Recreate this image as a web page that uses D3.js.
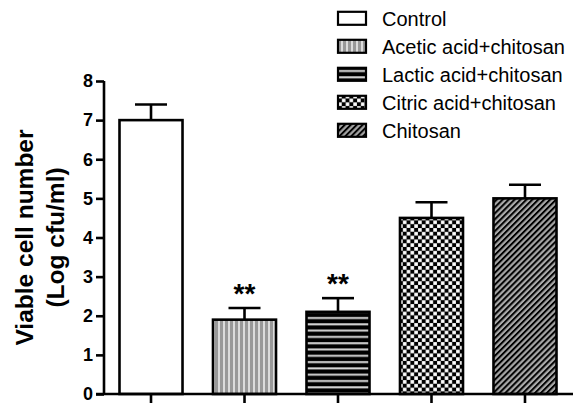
<!DOCTYPE html>
<html>
<head>
<meta charset="utf-8">
<script src="https://cdn.jsdelivr.net/npm/d3@7"></script>
<style>
  html, body { margin: 0; padding: 0; background: #fff; }
  svg { display: block; }
  text { font-family: "Liberation Sans", Arial, Helvetica, sans-serif; fill: #000; }
</style>
</head>
<body>
<svg id="chart" width="576" height="403"></svg>
<script>
// Treatments and their viable counts (log cfu/ml) with upper SD
const groups = ["Control", "Acetic acid+chitosan", "Lactic acid+chitosan", "Citric acid+chitosan", "Chitosan"];
const means = [7.0, 1.9, 2.1, 4.5, 5.0];
const errors = [0.4, 0.3, 0.35, 0.4, 0.35];
const significance = ["", "**", "**", "", ""];
const yTicks = [0, 1, 2, 3, 4, 5, 6, 7, 8];

const svg = d3.select("#chart");
const defs = svg.append("defs");

// Fill patterns for each treatment
// Acetic: fine vertical grey stripes
const pA = defs.append("pattern").attr("id", "pat-acetic").attr("patternUnits", "userSpaceOnUse")
  .attr("width", 5).attr("height", 5);
pA.append("rect").attr("width", 5).attr("height", 5).attr("fill", "#999");
pA.append("rect").attr("x", 3).attr("width", 2).attr("height", 5).attr("fill", "#dcdcdc");

// Lactic: black with thin light horizontal lines
const pL = defs.append("pattern").attr("id", "pat-lactic").attr("patternUnits", "userSpaceOnUse")
  .attr("width", 6).attr("height", 6.3);
pL.append("rect").attr("width", 6).attr("height", 6.3).attr("fill", "#000");
pL.append("rect").attr("y", 2).attr("width", 6).attr("height", 2).attr("fill", "#d8d8d8");

// Citric: checkerboard
const pC = defs.append("pattern").attr("id", "pat-citric").attr("patternUnits", "userSpaceOnUse")
  .attr("width", 7.6).attr("height", 7.6);
pC.append("rect").attr("width", 7.6).attr("height", 7.6).attr("fill", "#000");
pC.append("rect").attr("x", 0.1).attr("y", 0.1).attr("width", 3.6).attr("height", 3.6).attr("fill", "#fff");
pC.append("rect").attr("x", 3.9).attr("y", 3.9).attr("width", 3.6).attr("height", 3.6).attr("fill", "#fff");

// Chitosan: diagonal hatch
const pH = defs.append("pattern").attr("id", "pat-chitosan").attr("patternUnits", "userSpaceOnUse")
  .attr("width", 4.2).attr("height", 4.2).attr("patternTransform", "rotate(45)");
pH.append("rect").attr("width", 4.2).attr("height", 4.2).attr("fill", "#a8a8a8");
pH.append("rect").attr("width", 2).attr("height", 4.2).attr("fill", "#000");

const fills = ["#fff", "url(#pat-acetic)", "url(#pat-lactic)", "url(#pat-citric)", "url(#pat-chitosan)"];

// Scales
const x = d3.scaleBand().domain(groups).range([119.5, 556.5]).paddingInner(0.326).paddingOuter(0);
const y = d3.scaleLinear().domain([0, 8]).range([394, 81]);
const axisX = 104;

// Bars
const g = svg.append("g");
g.selectAll("rect.bar").data(groups).join("rect")
  .attr("class", "bar")
  .attr("x", d => x(d))
  .attr("width", x.bandwidth())
  .attr("y", (d, i) => y(means[i]))
  .attr("height", (d, i) => y(0) - y(means[i]))
  .attr("fill", (d, i) => fills[i])
  .attr("stroke", "#000")
  .attr("stroke-width", 2.6);

// Upper error bars
const eb = g.selectAll("g.err").data(groups).join("g").attr("class", "err");
eb.append("line")
  .attr("x1", d => x(d) + x.bandwidth() / 2)
  .attr("x2", d => x(d) + x.bandwidth() / 2)
  .attr("y1", (d, i) => y(means[i]))
  .attr("y2", (d, i) => y(means[i] + errors[i]))
  .attr("stroke", "#000").attr("stroke-width", 2.6);
eb.append("line")
  .attr("x1", d => x(d) + x.bandwidth() / 2 - 16)
  .attr("x2", d => x(d) + x.bandwidth() / 2 + 16)
  .attr("y1", (d, i) => y(means[i] + errors[i]))
  .attr("y2", (d, i) => y(means[i] + errors[i]))
  .attr("stroke", "#000").attr("stroke-width", 2.6);

// Significance markers
g.selectAll("text.sig").data(groups).join("text")
  .attr("class", "sig")
  .attr("x", d => x(d) + x.bandwidth() / 2)
  .attr("y", (d, i) => y(means[i] + errors[i]) - 5)
  .attr("text-anchor", "middle")
  .attr("font-size", 28)
  .attr("font-weight", "bold")
  .text((d, i) => significance[i]);

// Y axis
const yAxis = d3.axisLeft(y).tickValues(yTicks).tickSize(8).tickPadding(3).tickFormat(d3.format("d"));
const ya = svg.append("g").attr("transform", `translate(${axisX},0)`).call(yAxis);
ya.select(".domain").attr("stroke", "#000").attr("stroke-width", 2.6).attr("d", `M0,${y(8)}V${y(0)}`);
ya.selectAll(".tick line").attr("stroke", "#000").attr("stroke-width", 2.6);
ya.selectAll(".tick text").attr("font-size", 18).attr("font-weight", "bold")
  .attr("font-family", "'Liberation Sans', Arial, sans-serif").attr("fill", "#000");

// X axis
const xAxis = d3.axisBottom(x).tickSize(9).tickFormat("");
const xa = svg.append("g").attr("transform", `translate(0,${y(0)})`).call(xAxis);
xa.select(".domain").attr("stroke", "#000").attr("stroke-width", 2.6).attr("d", `M96,0H573`);
xa.selectAll(".tick line").attr("stroke", "#000").attr("stroke-width", 2.6);

// Y axis title
const title = svg.append("text")
  .attr("transform", `translate(0,${(y(0) + y(8)) / 2}) rotate(-90)`)
  .attr("text-anchor", "middle")
  .attr("font-size", 24.5)
  .attr("font-weight", "bold");
title.append("tspan").attr("x", 0).attr("y", 33).text("Viable cell number");
title.append("tspan").attr("x", 0).attr("y", 64).text("(Log cfu/ml)");

// Legend
const legend = svg.append("g");
const rowH = 28;
const items = legend.selectAll("g").data(groups).join("g")
  .attr("transform", (d, i) => `translate(338,${18.3 + i * rowH})`);
items.append("rect")
  .attr("x", 0).attr("y", -6.5).attr("width", 28).attr("height", 13)
  .attr("fill", (d, i) => fills[i])
  .attr("stroke", "#000").attr("stroke-width", 2.2);
items.append("text")
  .attr("x", 44).attr("y", 0).attr("dy", "0.36em")
  .attr("font-size", 20)
  .text(d => d);
</script>
</body>
</html>
